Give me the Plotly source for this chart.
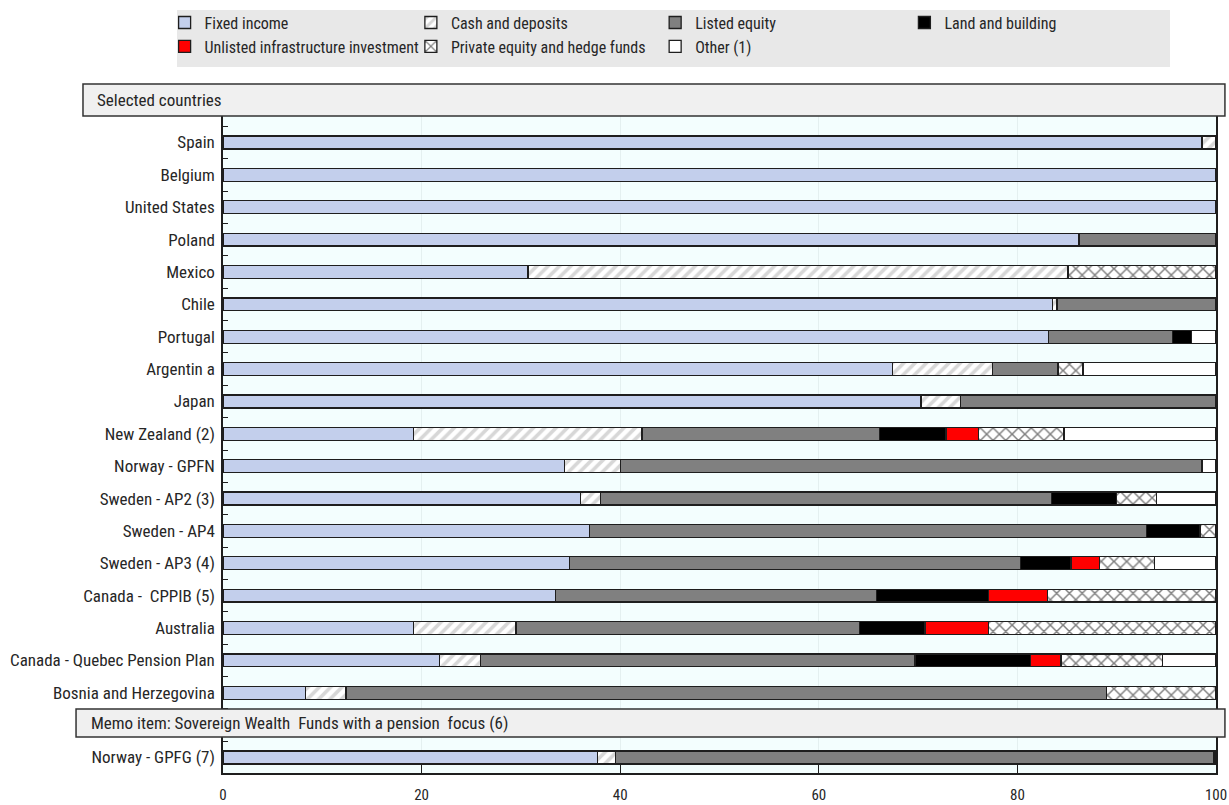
import plotly.graph_objects as go

countries = ["Spain", "Belgium", "United States", "Poland", "Mexico", "Chile", "Portugal",
             "Argentin a", "Japan", "New Zealand (2)", "Norway - GPFN", "Sweden - AP2 (3)",
             "Sweden - AP4", "Sweden - AP3 (4)", "Canada -  CPPIB (5)", "Australia",
             "Canada - Quebec Pension Plan", "Bosnia and Herzegovina", "Norway - GPFG (7)"]
memo_label = " "  # empty slot for the memo-item header row

fixed_income = [98.6, 100, 100, 86.2, 30.7, 83.5, 83.1, 67.4, 70.3, 19.2, 34.4, 36.0, 36.9, 34.9, 33.5, 19.2, 21.8, 8.3, 37.7]
cash_deposits = [1.4, None, None, None, 54.4, 0.5, None, 10.1, 4.0, 23.0, 5.6, 2.0, None, None, None, 10.3, 4.1, 4.1, 1.8]
listed_equity = [None, None, None, 13.8, None, 16.0, 12.5, 6.6, 25.7, 23.9, 58.6, 45.4, 56.1, 45.4, 32.3, 34.6, 43.8, 76.6, 60.3]
land_building = [None, None, None, None, None, None, 1.9, None, None, 6.7, None, 6.6, 5.4, 5.1, 11.3, 6.6, 11.6, None, 0.2]
unlisted_infra = [None, None, None, None, None, None, None, None, None, 3.3, None, None, None, 2.9, 5.9, 6.4, 3.1, None, None]
private_equity = [None, None, None, None, 14.9, None, None, 2.5, None, 8.6, None, 4.0, 1.6, 5.5, 17.0, 22.9, 10.2, 11.0, None]
other = [None, None, None, None, None, None, 2.5, 13.4, None, 15.3, 1.4, 6.0, None, 6.2, None, None, 5.4, None, None]

series_names = ["Fixed income", "Cash and deposits", "Listed equity", "Land and building",
                "Unlisted infrastructure investment", "Private equity and hedge funds", "Other (1)"]
x_ticks = [0, 20, 40, 60, 80, 100]

FONT = "Liberation Sans Narrow, Arial Narrow, Roboto Condensed, Liberation Sans, sans-serif"
FS = 17
TXT = "#262626"
EDGE = "#1e1e1e"

category_order = countries[:-1] + [memo_label] + countries[-1:]

styles = [
    dict(color="#c3cfec"),
    dict(color="white", pattern=dict(shape="/", fgcolor="#b0b0b0", bgcolor="white", size=8, solidity=0.45)),
    dict(color="#808080"),
    dict(color="#000000"),
    dict(color="#ff0000"),
    dict(color="white", pattern=dict(shape="x", fgcolor="#000000", bgcolor="white", size=9, solidity=0.3)),
    dict(color="white"),
]
legend_ids = ["legend", "legend2", "legend3", "legend4", "legend", "legend2", "legend3"]

fig = go.Figure()
for name, vals, st, lg in zip(series_names,
                              [fixed_income, cash_deposits, listed_equity, land_building,
                               unlisted_infra, private_equity, other],
                              styles, legend_ids):
    marker = dict(line=dict(color=EDGE, width=1.3))
    marker.update(st)
    fig.add_trace(go.Bar(
        y=countries, x=vals, name=name, orientation="h",
        marker=marker, legend=lg, legendgroup=name,
    ))

# legend column positions (paper x)
cols_x = [-0.0588, 0.1892, 0.4352, 0.6862]
leg_common = dict(orientation="v", xanchor="left", yanchor="top", y=1.168,
                  bgcolor="rgba(0,0,0,0)", borderwidth=0, traceorder="normal",
                  tracegroupgap=10, font=dict(family=FONT, size=16, color=TXT))

fig.update_layout(
    width=1229, height=805,
    margin=dict(l=223, r=13, t=116, b=32, autoexpand=False),
    paper_bgcolor="white",
    plot_bgcolor="#f3fefe",
    barmode="stack",
    bargap=0.6,
    font=dict(family=FONT, size=FS, color=TXT),
    legend=dict(x=cols_x[0], **leg_common),
    legend2=dict(x=cols_x[1], **leg_common),
    legend3=dict(x=cols_x[2], **leg_common),
    legend4=dict(x=cols_x[3], **leg_common),
    xaxis=dict(range=[0, 100], tickvals=x_ticks, ticks="inside", ticklen=8, tickcolor=EDGE,
               showgrid=True, gridcolor="#e4f0f0", gridwidth=1, zeroline=False,
               showline=True, linecolor=EDGE, linewidth=1.5, mirror=True,
               ticklabelstandoff=7,
               tickfont=dict(family=FONT, size=15, color=TXT)),
    yaxis=dict(type="category", categoryorder="array", categoryarray=category_order,
               range=[len(category_order) - 1 + 0.48, -0.82],
               tickson="boundaries", ticks="inside", ticklen=5, tickcolor=EDGE,
               showgrid=False, showline=True, linecolor=EDGE, linewidth=1.5, mirror=True,
               ticklabelstandoff=3,
               tickfont=dict(family=FONT, size=FS, color=TXT)),
)

# legend background box
fig.add_shape(type="rect", xref="paper", yref="paper", x0=-0.0463, x1=0.9537, y0=1.0746, y1=1.1613,
              fillcolor="#e8e8e8", line=dict(width=0), layer="below")
# header boxes
fig.add_shape(type="rect", xref="paper", yref="paper", x0=-0.141, x1=1.009, y0=1.0, y1=1.0487,
              fillcolor="#f0f0f0", line=dict(color="#333333", width=1.5))
fig.add_shape(type="rect", xref="paper", yref="paper", x0=-0.148, x1=1.009, y0=0.0548, y1=0.0974,
              fillcolor="#f0f0f0", line=dict(color="#333333", width=1.5))
fig.add_annotation(text="Selected countries", xref="paper", yref="paper", x=-0.129, y=1.0244,
                   xanchor="left", yanchor="middle", showarrow=False,
                   font=dict(family=FONT, size=FS, color=TXT))
fig.add_annotation(text="Memo item: Sovereign Wealth  Funds with a pension  focus (6)", xref="paper", yref="paper",
                   x=-0.135, y=0.0761, xanchor="left", yanchor="middle", showarrow=False,
                   font=dict(family=FONT, size=FS, color=TXT))

# remove the page's default body margin so the 1229x805 figure fills the window exactly
fig.write_html("out.html",
               config={"displayModeBar": False},
               post_script="document.body.style.margin='0';document.body.style.overflow='hidden';")
